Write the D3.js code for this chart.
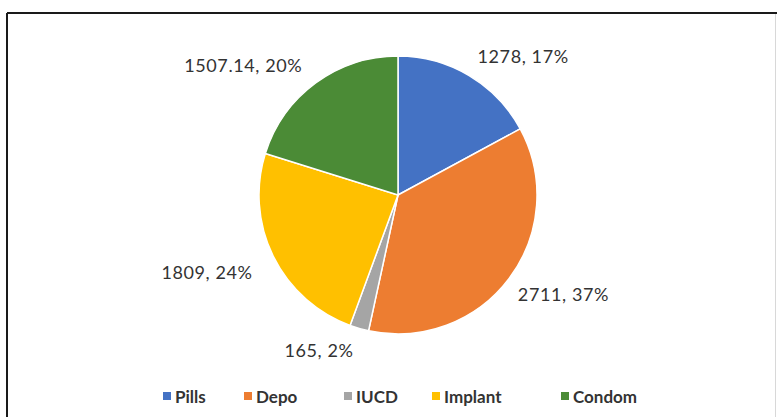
<!DOCTYPE html>
<html>
<head>
<meta charset="utf-8">
<script src="https://cdn.jsdelivr.net/npm/d3@7"></script>
<style>
  body { margin: 0; background: #fff; }
  svg { display: block; }
</style>
</head>
<body>
<div id="chart"></div>
<script>
// Contraceptive method totals
const methods = ["Pills", "Depo", "IUCD", "Implant", "Condom"]
const counts = [1278, 2711, 165, 1809, 1507.14]
const labels = ["1278, 17%", "2711, 37%", "165, 2%", "1809, 24%", "1507.14, 20%"]
const colors = ["#4472C4", "#ED7D31", "#A5A5A5", "#FFC000", "#4B8B36"]

// where each data label sits: angle (deg, clockwise from top) and distance from centre
const labelAngle = [42, 121, 207, 248, 310]
const labelDist = [187, 193, 174, 206, 202]

const width = 777
const height = 417
const cx = 398
const cy = 195
const radius = 139

const svg = d3.select("#chart")
  .append("svg")
  .attr("width", width)
  .attr("height", height)

// frame around the chart area (cropped at right and bottom)
svg.append("line")
  .attr("x1", 7).attr("y1", 13).attr("x2", width).attr("y2", 13)
  .attr("stroke", "#1a1a1a").attr("stroke-width", 2)
svg.append("line")
  .attr("x1", 7).attr("y1", 13).attr("x2", 7).attr("y2", height)
  .attr("stroke", "#1a1a1a").attr("stroke-width", 2)
svg.append("line")
  .attr("x1", 775.5).attr("y1", 14).attr("x2", 775.5).attr("y2", height)
  .attr("stroke", "#d8d8d8").attr("stroke-width", 1)

const data = methods.map((m, i) => ({ name: m, value: counts[i], label: labels[i], color: colors[i] }))

const pie = d3.pie().value(d => d.value).sort(null)
const arc = d3.arc().innerRadius(0).outerRadius(radius)

const g = svg.append("g").attr("transform", `translate(${cx},${cy})`)

g.selectAll("path")
  .data(pie(data))
  .enter()
  .append("path")
  .attr("d", arc)
  .attr("fill", d => d.data.color)
  .attr("stroke", "#fff")
  .attr("stroke-width", 1.5)

// data labels
g.selectAll(".lbl")
  .data(data)
  .enter()
  .append("text")
  .attr("class", "lbl")
  .attr("x", (d, i) => labelDist[i] * Math.sin(labelAngle[i] * Math.PI / 180))
  .attr("y", (d, i) => -labelDist[i] * Math.cos(labelAngle[i] * Math.PI / 180))
  .attr("text-anchor", "middle")
  .attr("dominant-baseline", "central")
  .attr("font-family", "Lato, 'Open Sans', sans-serif")
  .attr("font-size", 18)
  .attr("letter-spacing", 0.6)
  .attr("fill", "#333")
  .text(d => d.label)

// legend
const legendX = [163, 244, 344, 432, 561]
const legend = svg.append("g")
  .selectAll("g")
  .data(data)
  .enter()
  .append("g")
  .attr("transform", (d, i) => `translate(${legendX[i]},396)`)

legend.append("rect")
  .attr("x", 0).attr("y", -4)
  .attr("width", 8).attr("height", 8)
  .attr("fill", d => d.color)

legend.append("text")
  .attr("x", 12)
  .attr("y", 0)
  .attr("dominant-baseline", "central")
  .attr("font-family", "Lato, 'Open Sans', sans-serif")
  .attr("font-size", 17)
  .attr("font-weight", "bold")
  .attr("fill", "#333")
  .text(d => d.name)
</script>
</body>
</html>
